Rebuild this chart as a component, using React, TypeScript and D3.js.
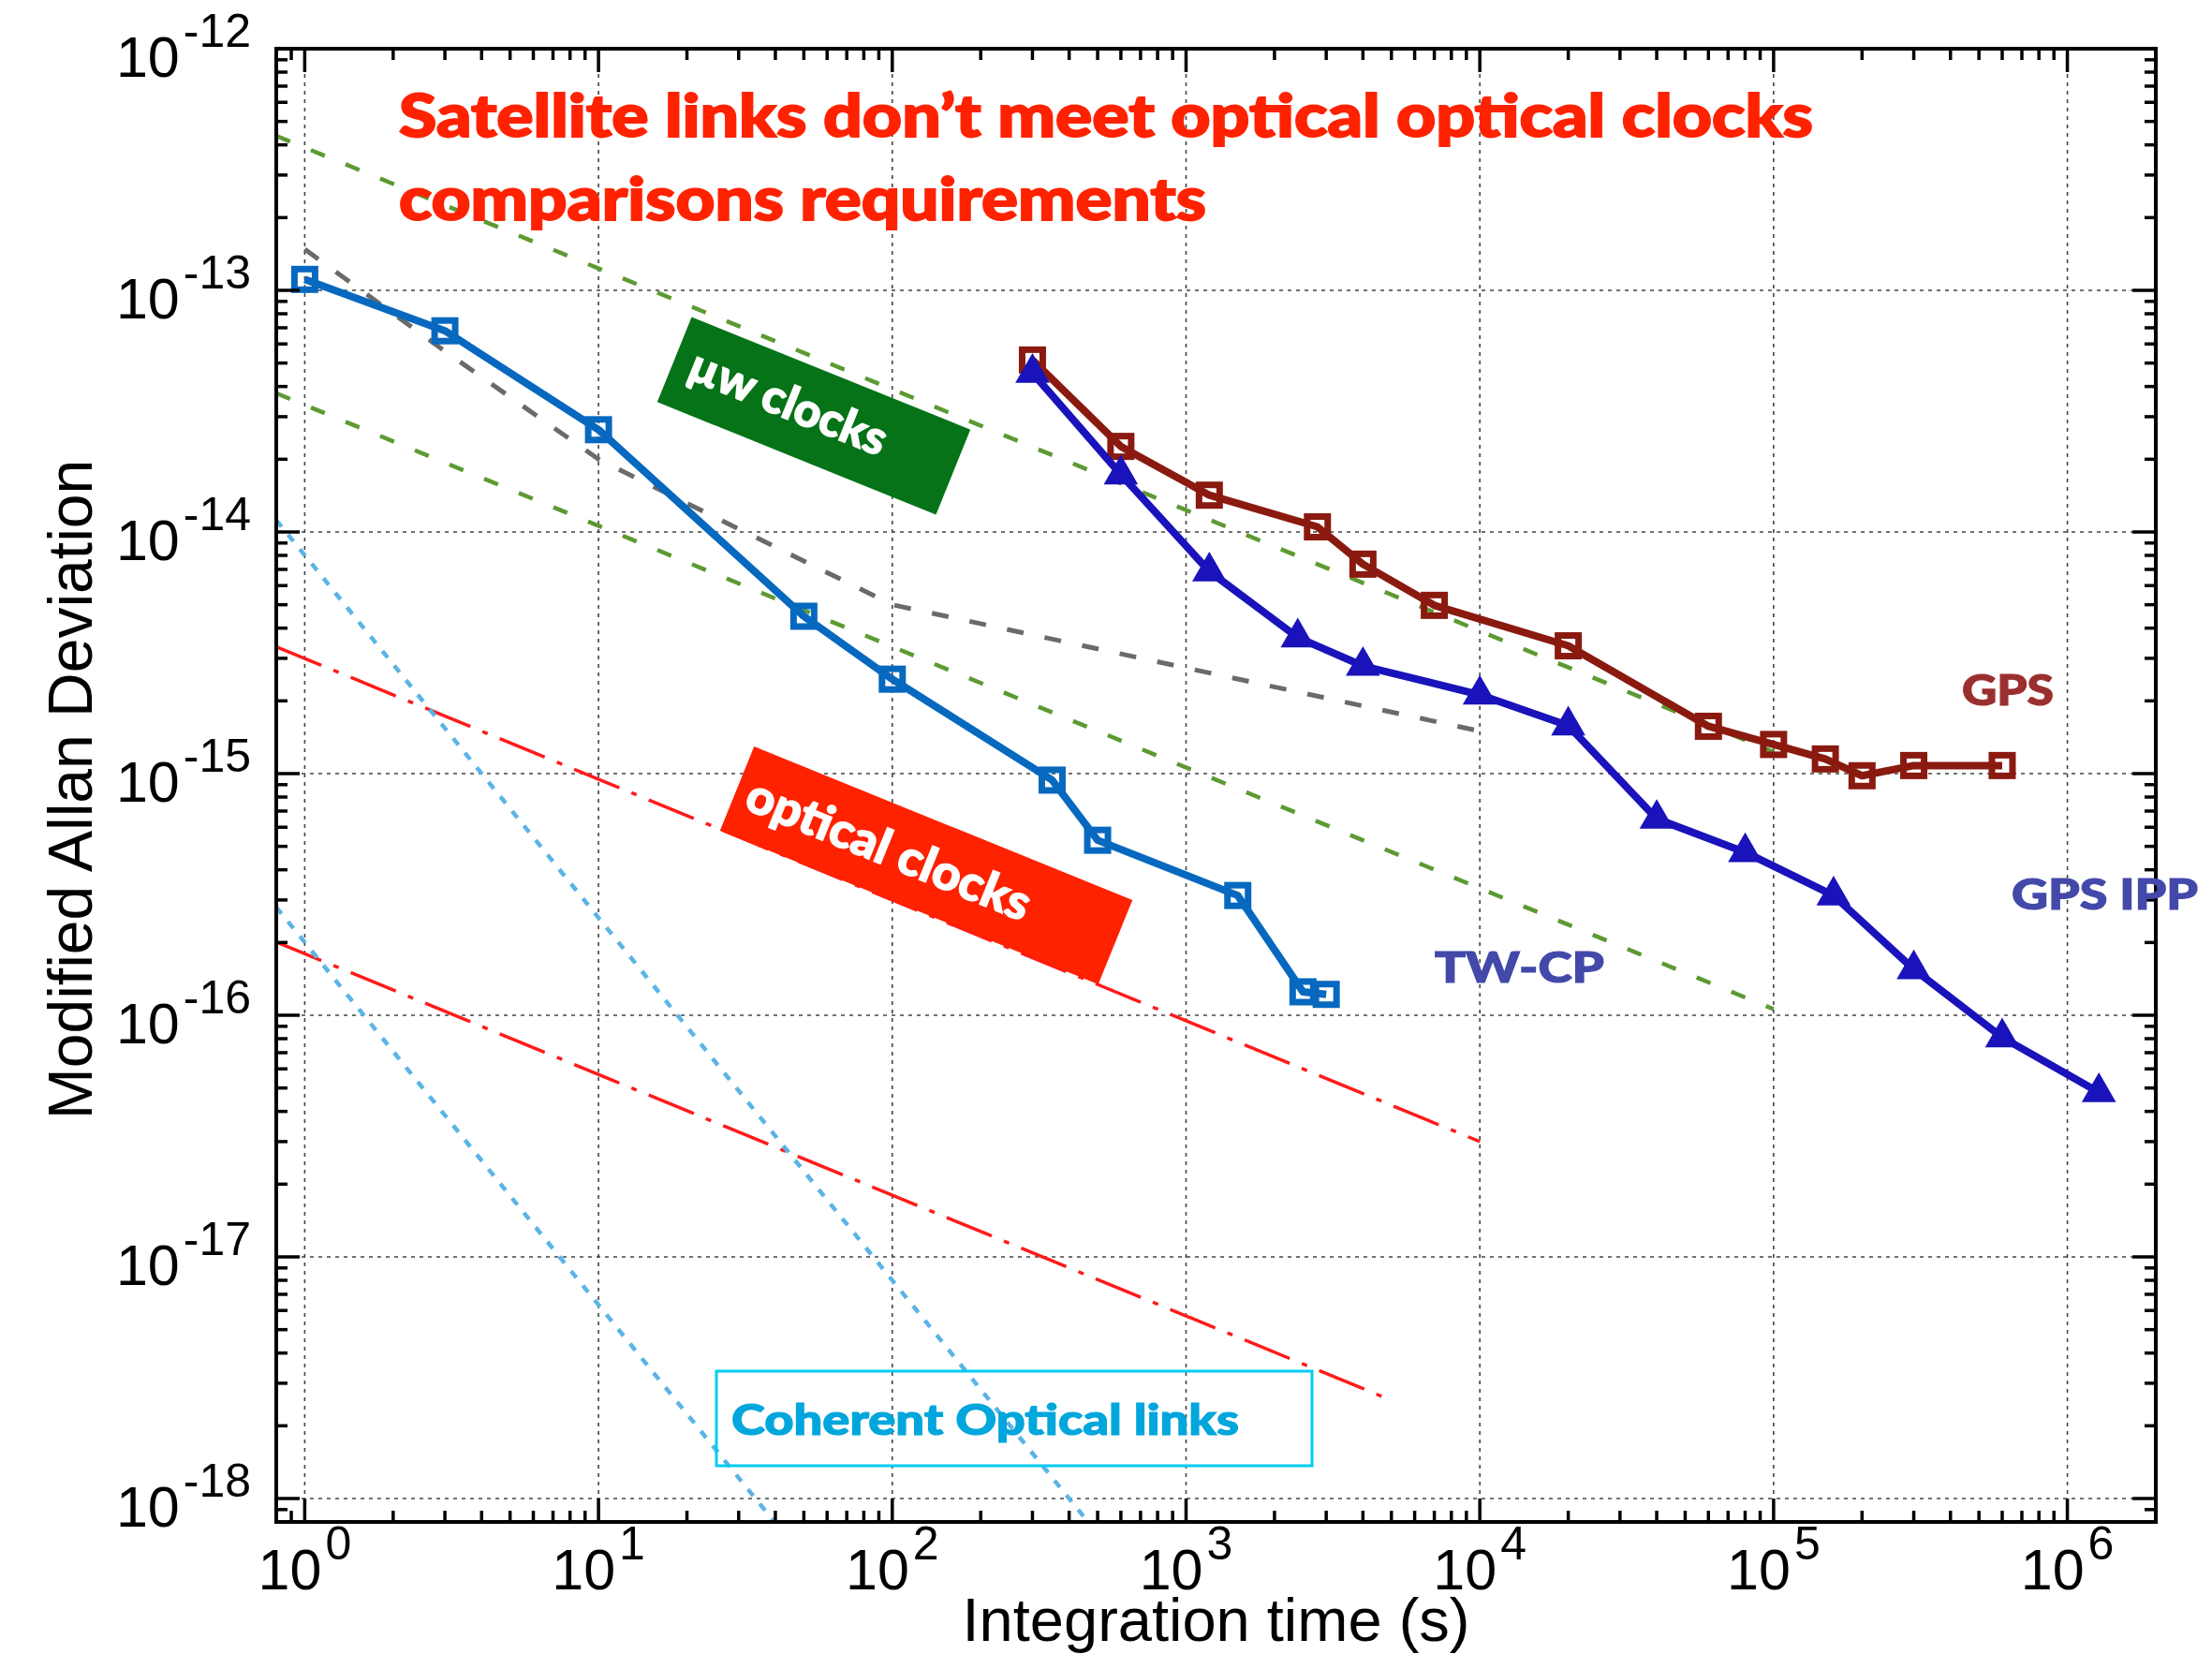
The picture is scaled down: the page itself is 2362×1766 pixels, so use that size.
import React from "react";
import * as d3 from "d3";

const WIDTH = 2362;
const HEIGHT = 1766;
const PLOT = { left: 295, right: 2302, top: 52, bottom: 1625 };
const X_DOMAIN: [number, number] = [0.8, 2e6];
const Y_DOMAIN: [number, number] = [8e-19, 1e-12];

// decade exponents for tick labels
const xDecades = [0, 1, 2, 3, 4, 5, 6];
const yDecades = [-12, -13, -14, -15, -16, -17, -18];

// TW-CP link
const twcpTau = [1, 3, 10, 50, 100, 350, 500, 1500, 2500, 3000];
const twcpDev = [1.11e-13, 6.8e-14, 2.65e-14, 4.48e-15, 2.46e-15, 9.4e-16, 5.3e-16, 3.13e-16, 1.25e-16, 1.22e-16];

// GPS
const gpsTau = [300, 600, 1200, 2800, 4000, 7000, 2e4, 6e4, 1e5, 1.5e5, 2e5, 3e5, 6e5];
const gpsDev = [5.15e-14, 2.26e-14, 1.42e-14, 1.05e-14, 7.36e-15, 4.97e-15, 3.38e-15, 1.57e-15, 1.32e-15, 1.15e-15, 9.8e-16, 1.08e-15, 1.08e-15];

// GPS IPP
const ippTau = [300, 600, 1200, 2400, 4000, 1e4, 2e4, 4e4, 8e4, 1.6e5, 3e5, 6e5, 1.28e6];
const ippDev = [4.55e-14, 1.73e-14, 6.87e-15, 3.66e-15, 2.79e-15, 2.12e-15, 1.58e-15, 6.5e-16, 4.73e-16, 3.13e-16, 1.55e-16, 8.1e-17, 4.8e-17];

// microwave clock guide lines (tau^-1/2)
const mwUpperTau = [0.8, 1e5];
const mwUpperDev = [4.36e-13, 1.23e-15];
const mwLowerTau = [0.8, 1e5];
const mwLowerDev = [3.75e-14, 1.06e-16];

// hydrogen maser style curve
const maserTau = [1, 3, 10, 30, 100, 1e4];
const maserDev = [1.48e-13, 5.6e-14, 2.0e-14, 1.03e-14, 5.0e-15, 1.5e-15];

// optical clock guide lines
const optUpperTau = [0.8, 1e4];
const optUpperDev = [3.35e-15, 3.0e-17];
const optLowerTau = [0.8, 5000];
const optLowerDev = [2.01e-16, 2.55e-18];

// coherent optical link guide lines
const linkUpperTau = [0.8, 464];
const linkUpperDev = [1.12e-14, 8.0e-19];
const linkLowerTau = [0.8, 39.7];
const linkLowerDev = [2.8e-16, 8.0e-19];

const AXIS_FONT = "'Liberation Sans', Arial, Helvetica, sans-serif";
const LABEL_FONT = "Lato, 'Open Sans', 'Noto Sans', sans-serif";

function zip(t: number[], v: number[]): [number, number][] {
  return t.map((d, i) => [d, v[i]]);
}

export default function App() {
  const x = d3.scaleLog().domain(X_DOMAIN).range([PLOT.left, PLOT.right]);
  const y = d3.scaleLog().domain(Y_DOMAIN).range([PLOT.bottom, PLOT.top]);
  const line = d3
    .line<[number, number]>()
    .x((d) => x(d[0]))
    .y((d) => y(d[1]));

  const xMajor = xDecades.map((e) => Math.pow(10, e));
  const yMajor = yDecades.map((e) => Math.pow(10, e));
  const xMinor: number[] = [];
  for (let e = -1; e <= 6; e++)
    for (let k = 2; k <= 9; k++) {
      const v = k * Math.pow(10, e);
      if (v > X_DOMAIN[0] * 1.0001 && v < X_DOMAIN[1] * 0.9999) xMinor.push(v);
    }
  const yMinor: number[] = [];
  for (let e = -19; e <= -13; e++)
    for (let k = 2; k <= 9; k++) {
      const v = k * Math.pow(10, e);
      if (v > Y_DOMAIN[0] * 1.0001 && v < Y_DOMAIN[1] * 0.9999) yMinor.push(v);
    }

  const MAJ = 25;
  const MIN = 12;
  const tickStroke = { stroke: "#000", strokeWidth: 3.5 };

  const triangle = d3.symbol().type(d3.symbolTriangle).size(580)() as string;
  const SQ = 22;

  const guide = (t: number[], v: number[], stroke: string, width: number, dash: string) => (
    <path d={line(zip(t, v)) as string} fill="none" stroke={stroke} strokeWidth={width} strokeDasharray={dash} />
  );

  return (
    <svg
      width={WIDTH}
      height={HEIGHT}
      viewBox={`0 0 ${WIDTH} ${HEIGHT}`}
      style={{ position: "absolute", left: 0, top: 0, background: "#fff" }}
    >
      <defs>
        <clipPath id="plotArea">
          <rect x={PLOT.left} y={PLOT.top} width={PLOT.right - PLOT.left} height={PLOT.bottom - PLOT.top} />
        </clipPath>
      </defs>
      <rect x={0} y={0} width={WIDTH} height={HEIGHT} fill="#fff" />

      {/* grid */}
      <g stroke="#444" strokeWidth={1.6} strokeDasharray="4 5">
        {xMajor.map((v) => (
          <line key={"gx" + v} x1={x(v)} x2={x(v)} y1={PLOT.top} y2={PLOT.bottom} />
        ))}
        {yMajor.map((v) => (
          <line key={"gy" + v} x1={PLOT.left} x2={PLOT.right} y1={y(v)} y2={y(v)} />
        ))}
      </g>

      <g clipPath="url(#plotArea)">
        {guide(mwUpperTau, mwUpperDev, "#5C9A32", 4.5, "16 24")}
        {guide(mwLowerTau, mwLowerDev, "#5C9A32", 4.5, "16 24")}
        {guide(maserTau, maserDev, "#6A6A6A", 5, "18 23")}
        {guide(optUpperTau, optUpperDev, "#FF1A1A", 3.5, "52 14 6 14")}
        {guide(optLowerTau, optLowerDev, "#FF1A1A", 3.5, "52 14 6 14")}
        {guide(linkUpperTau, linkUpperDev, "#5BB4E6", 4.5, "9 11")}
        {guide(linkLowerTau, linkLowerDev, "#5BB4E6", 4.5, "9 11")}
      </g>

      {/* annotation boxes */}
      <g transform="translate(869,444) rotate(22)">
        <rect x={-160.5} y={-49} width={321} height={98} fill="#067318" />
        <text x={-143} y={14} fill="#fff" stroke="#fff" strokeWidth={1.4} fontFamily={LABEL_FONT} fontWeight={900} fontSize={50} textLength={224} lengthAdjust="spacingAndGlyphs">
          µw clocks
        </text>
      </g>
      <g transform="translate(989,924) rotate(22.1)">
        <rect x={-218} y={-48.5} width={436} height={97} fill="#FF2200" />
        <text x={-205} y={17} fill="#fff" stroke="#fff" strokeWidth={1.4} fontFamily={LABEL_FONT} fontWeight={900} fontSize={52} textLength={323} lengthAdjust="spacingAndGlyphs">
          optical clocks
        </text>
      </g>
      <rect x={765} y={1464} width={636} height={101} fill="none" stroke="#00CCF2" strokeWidth={3} />
      <text x={781} y={1532} fill="#00A6DC" stroke="#00A6DC" strokeWidth={1.2} fontFamily={LABEL_FONT} fontWeight={900} fontSize={46} textLength={542} lengthAdjust="spacingAndGlyphs">
        Coherent Optical links
      </text>

      {/* data series */}
      <g clipPath="url(#plotArea)">
        <path d={line(zip(twcpTau, twcpDev)) as string} fill="none" stroke="#0768BF" strokeWidth={8} strokeLinejoin="round" />
        {twcpTau.map((t, i) => (
          <rect key={"tw" + i} x={x(t) - SQ / 2} y={y(twcpDev[i]) - SQ / 2} width={SQ} height={SQ} fill="none" stroke="#0768BF" strokeWidth={7} />
        ))}
        <path d={line(zip(gpsTau, gpsDev)) as string} fill="none" stroke="#8A1A0F" strokeWidth={8} strokeLinejoin="round" />
        {gpsTau.map((t, i) => (
          <rect key={"gps" + i} x={x(t) - SQ / 2} y={y(gpsDev[i]) - SQ / 2} width={SQ} height={SQ} fill="none" stroke="#8A1A0F" strokeWidth={7} />
        ))}
        <path d={line(zip(ippTau, ippDev)) as string} fill="none" stroke="#1A12BA" strokeWidth={8} strokeLinejoin="round" />
        {ippTau.map((t, i) => (
          <path key={"ipp" + i} d={triangle} transform={`translate(${x(t)},${y(ippDev[i])})`} fill="#1A12BA" />
        ))}
      </g>

      {/* frame and ticks */}
      <rect x={PLOT.left} y={PLOT.top} width={PLOT.right - PLOT.left} height={PLOT.bottom - PLOT.top} fill="none" stroke="#000" strokeWidth={4} />
      <g {...tickStroke}>
        {xMajor.map((v) => (
          <g key={"tx" + v}>
            <line x1={x(v)} x2={x(v)} y1={PLOT.bottom} y2={PLOT.bottom - MAJ} />
            <line x1={x(v)} x2={x(v)} y1={PLOT.top} y2={PLOT.top + MAJ} />
          </g>
        ))}
        {xMinor.map((v) => (
          <g key={"tmx" + v}>
            <line x1={x(v)} x2={x(v)} y1={PLOT.bottom} y2={PLOT.bottom - MIN} />
            <line x1={x(v)} x2={x(v)} y1={PLOT.top} y2={PLOT.top + MIN} />
          </g>
        ))}
        {yMajor.map((v) => (
          <g key={"ty" + v}>
            <line x1={PLOT.left} x2={PLOT.left + MAJ} y1={y(v)} y2={y(v)} />
            <line x1={PLOT.right} x2={PLOT.right - MAJ} y1={y(v)} y2={y(v)} />
          </g>
        ))}
        {yMinor.map((v) => (
          <g key={"tmy" + v}>
            <line x1={PLOT.left} x2={PLOT.left + MIN} y1={y(v)} y2={y(v)} />
            <line x1={PLOT.right} x2={PLOT.right - MIN} y1={y(v)} y2={y(v)} />
          </g>
        ))}
      </g>

      {/* tick labels */}
      <g fontFamily={AXIS_FONT} fill="#000">
        {xDecades.map((e) => (
          <text key={"lx" + e} x={x(Math.pow(10, e))} y={PLOT.bottom + 72} textAnchor="middle" fontSize={61}>
            10
            <tspan dx={4} dy={-32} fontSize={50}>
              {String(e)}
            </tspan>
          </text>
        ))}
        {yDecades.map((e) => (
          <text key={"ly" + e} x={268} y={y(Math.pow(10, e)) + 30} textAnchor="end" fontSize={61}>
            10
            <tspan dx={4} dy={-32} fontSize={50}>
              {"-" + String(-e)}
            </tspan>
          </text>
        ))}
        <text x={(PLOT.left + PLOT.right) / 2} y={1752} textAnchor="middle" fontSize={65}>
          Integration time (s)
        </text>
        <text transform="translate(98,843) rotate(-90)" textAnchor="middle" fontSize={66}>
          Modified Allan Deviation
        </text>
      </g>

      {/* series labels */}
      <g fontFamily={LABEL_FONT} fontWeight={900} strokeWidth={1.2}>
        <text x={2095} y={753} fill="#9B2F2F" stroke="#9B2F2F" fontSize={46} textLength={98} lengthAdjust="spacingAndGlyphs">
          GPS
        </text>
        <text x={2148} y={971} fill="#4349A9" stroke="#4349A9" fontSize={46} textLength={199} lengthAdjust="spacingAndGlyphs">
          GPS IPP
        </text>
        <text x={1532} y={1049} fill="#4349A9" stroke="#4349A9" fontSize={46} textLength={181} lengthAdjust="spacingAndGlyphs">
          TW-CP
        </text>
      </g>

      {/* headline */}
      <g fontFamily={LABEL_FONT} fontWeight={900} fill="#FF2200" stroke="#FF2200" strokeWidth={1.8} fontSize={62}>
        <text x={426} y={146} textLength={1510} lengthAdjust="spacingAndGlyphs">
          Satellite links don’t meet optical optical clocks
        </text>
        <text x={426} y={235} textLength={862} lengthAdjust="spacingAndGlyphs">
          comparisons requirements
        </text>
      </g>
    </svg>
  );
}
